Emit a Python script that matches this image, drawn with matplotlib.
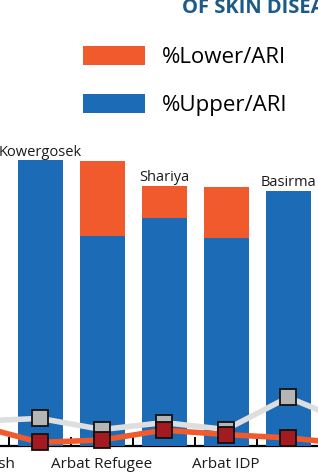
import numpy as np
import matplotlib
matplotlib.use("Agg")
import matplotlib.pyplot as plt
from matplotlib.patches import Patch
from matplotlib import font_manager

# ---- data ----
categories = ["Bardarash", "Kowergosek", "Arbat Refugee", "Shariya", "Arbat IDP", "Basirma", "Domiz"]
upper_ari = [0.0, 95.3, 70.0, 76.0, 69.3, 85.0, 0.0]
lower_ari = [0.0, 0.0, 25.0, 10.7, 17.0, 0.0, 0.0]
gray_series = [8.3, 9.2, 5.5, 7.8, 5.5, 16.2, 7.7]
red_series = [6.7, 1.2, 2.0, 5.3, 3.8, 2.7, 0.7]
legend_labels = ["%Lower/ARI", "%Upper/ARI"]
title_text = "OF SKIN DISEASES"

avail = {f.name for f in font_manager.fontManager.ttflist}
base_font = "Open Sans" if "Open Sans" in avail else "DejaVu Sans"
title_font = "Liberation Sans Narrow" if "Liberation Sans Narrow" in avail else base_font
plt.rcParams["font.family"] = [base_font, "DejaVu Sans"]

BLUE = "#1b6bb6"
ORANGE = "#f15a2c"

W, H = 318, 473
fig = plt.figure(figsize=(W / 100, H / 100), dpi=100)
ax = fig.add_axes([0, 0, 1, 1])
ax.patch.set_alpha(0)

x = np.arange(len(categories))
bw = 45 / 62
ax.bar(x, upper_ari, width=bw, color=BLUE, zorder=3)
ax.bar(x, lower_ari, width=bw, bottom=upper_ari, color=ORANGE, zorder=3)

ax.plot(x, gray_series, color="#dedede", lw=4.0, marker="s", ms=11.5,
        mfc="#b5b5b5", mec="#111111", mew=1.3, zorder=4, solid_capstyle="butt")
ax.plot(x, red_series, color=ORANGE, lw=4.0, marker="s", ms=11.5,
        mfc="#a31b21", mec="#111111", mew=1.3, zorder=5, solid_capstyle="butt")

for s in ["top", "left", "right"]:
    ax.spines[s].set_visible(False)
ax.spines["bottom"].set_position(("data", 0))
ax.spines["bottom"].set_linewidth(1.6)
ax.spines["bottom"].set_zorder(2)
ax.set_xticks(np.arange(-0.5, len(categories) + 0.5, 1.0))
ax.set_xticklabels([])
ax.tick_params(axis="x", direction="in", length=6.5, width=1.4, color="black")
ax.set_yticks([])

# pixel mapping: bar i center at -22 + 62*i px ; baseline at 446 px, 3 px per unit
ax.set_xlim(22 / 62, (W + 22) / 62)
ax.set_ylim((446 - H) / 3, 446 / 3)

totals = np.array(upper_ari) + np.array(lower_ari)
for i, name in enumerate(categories):
    if i % 2 == 0:
        ax.text(i, -6.3, name, ha="center", va="center", fontsize=11, color="#1a1a1a")
    else:
        ax.text(i, totals[i] + 1.5, name, ha="center", va="baseline", fontsize=10.5, color="#1a1a1a")

handles = [Patch(facecolor=ORANGE, edgecolor="none"), Patch(facecolor=BLUE, edgecolor="none")]
fig.legend(handles, legend_labels, loc="upper left", bbox_to_anchor=(83 / W, 1 - 46 / H),
           frameon=False, fontsize=16, handlelength=2.8, handleheight=0.95,
           handletextpad=0.75, labelspacing=1.15, borderpad=0, borderaxespad=0)

fig.text(182 / W, 1 - 13 / H, title_text, ha="left", va="baseline", fontsize=14.5,
         fontweight="bold", color="#1b5a89", family=[title_font, "DejaVu Sans"])

fig.savefig("out.png", dpi=100)
